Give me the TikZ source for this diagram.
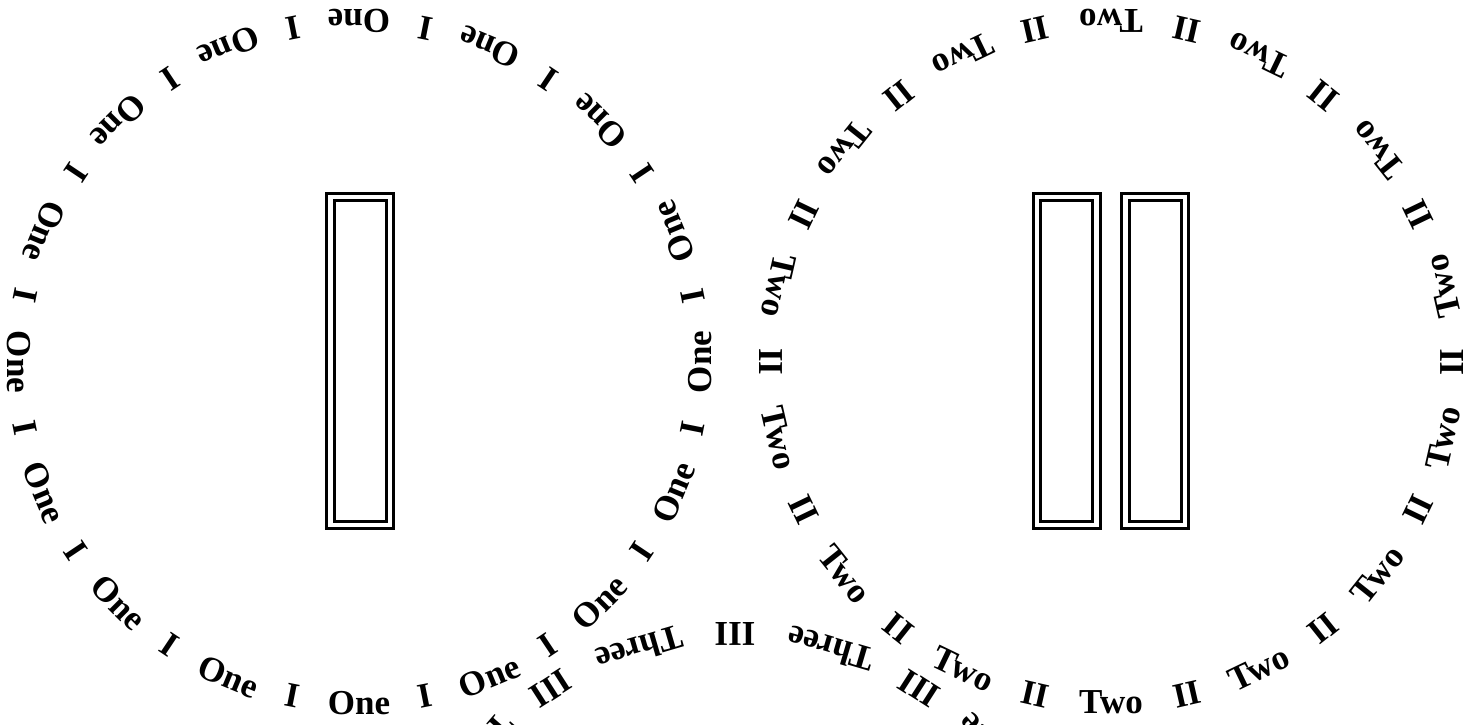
\documentclass[tikz,border=0pt]{standalone}
\usepackage{fontspec}
\setmainfont{Liberation Serif}
\usepackage{tikz}
\definecolor{ink}{HTML}{000000}
\definecolor{paper}{HTML}{FFFFFF}
\tikzset{
  word/.style ={font=\fontsize{17.5}{21}\selectfont\bfseries, text=ink,
                inner sep=0pt, anchor=base},
  bar/.style  ={draw=ink, double=paper, line width=1.5pt, double distance=2.25pt,
                minimum width=29.75pt, minimum height=163.9pt, inner sep=0pt}
}
\begin{document}
\begin{tikzpicture}[x=0.5pt, y=0.5pt]
  \useasboundingbox (0,0) rectangle (1469,724);
  \fill[paper] (0,0) rectangle (1469,724);
  \clip (0,0) rectangle (1469,724);

  \coordinate (ringI)   at (359,362);
  \coordinate (ringII)  at (1111,362);
  \coordinate (ringIII) at (735,-251);

  \node[bar] (barI)   at (360,363)    {};
  \node[bar] (barIIa) at (1066.7,363) {};
  \node[bar] (barIIb) at (1155,363)   {};

  \foreach \k [evaluate=\k as \a using 22.5*\k,
               evaluate=\k as \b using 22.5*\k+11.25] in {0,...,15} {
    \node[word, rotate=\a+90] (one-\k) at ([shift={(\a:352)}]ringI) {One};
    \node[word, rotate=\b+90] (i-\k)   at ([shift={(\b:352)}]ringI) {I};
  }

  \foreach \k [evaluate=\k as \a using 90+25.7143*\k,
               evaluate=\k as \b using 90+25.7143*\k+12.8571] in {0,...,13} {
    \node[word, rotate=\a+90] (two-\k) at ([shift={(\a:352)}]ringII) {Two};
    \node[word, rotate=\b+90] (ii-\k)  at ([shift={(\b:352)}]ringII) {II};
  }

  \foreach \k [evaluate=\k as \a using 90+32.7273*\k,
               evaluate=\k as \b using 90+32.7273*\k+16.3636] in {0,...,10} {
    \node[word, rotate=\a+90] (iii-\k)   at ([shift={(\a:352)}]ringIII) {III};
    \node[word, rotate=\b+90] (three-\k) at ([shift={(\b:352)}]ringIII) {Three};
  }
\end{tikzpicture}
\end{document}
